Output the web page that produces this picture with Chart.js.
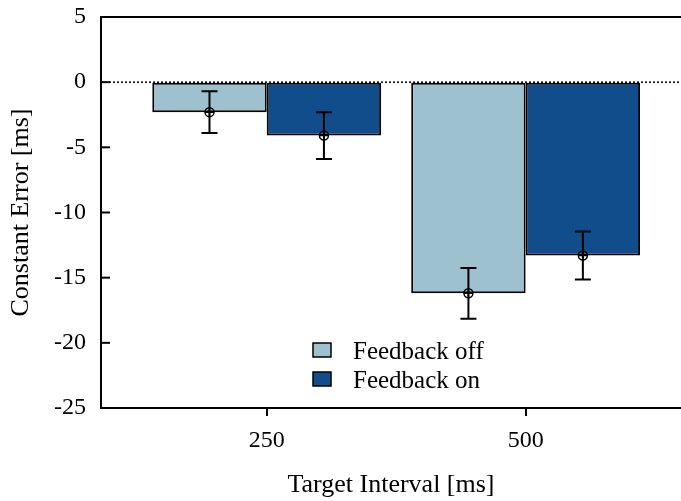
<!DOCTYPE html>
<html>
<head>
<meta charset="utf-8">
<script src="https://cdn.jsdelivr.net/npm/chart.js@4/dist/chart.umd.min.js"></script>
<style>
  html, body { margin: 0; padding: 0; background: #ffffff; overflow: hidden; }
  #wrap { width: 681px; height: 501px; }
</style>
</head>
<body>
<div id="wrap"><canvas id="c" width="681" height="501"></canvas></div>
<script>
// ---- data ----
const intervals = [250, 500];
const seriesLabels = ['Feedback off', 'Feedback on'];
const offMeans = [-2.3, -16.2];
const onMeans = [-4.1, -13.3];
const offErr = [1.6, 1.95];
const onErr = [1.8, 1.85];
const yTicks = [-25, -20, -15, -10, -5, 0, 5];

const FONT = "'Liberation Serif', 'Times New Roman', serif";
const lightColor = '#9dc1cf';
const darkColor = '#114d8a';

const toPts = (means) => intervals.map((x, i) => ({ x: x, y: means[i] }));

const errorPlugin = {
  id: 'extras',
  beforeDatasetsDraw(chart) {
    const { ctx, chartArea, scales } = chart;
    const y0 = scales.y.getPixelForValue(0);
    ctx.save();
    ctx.strokeStyle = '#000';
    ctx.lineWidth = 1.5;
    ctx.setLineDash([2, 2]);
    ctx.beginPath();
    ctx.moveTo(chartArea.left, y0);
    ctx.lineTo(chartArea.right, y0);
    ctx.stroke();
    ctx.setLineDash([]);
    ctx.lineWidth = 2;
    ctx.beginPath();
    ctx.moveTo(chartArea.left, chartArea.top);
    ctx.lineTo(chartArea.right, chartArea.top);
    ctx.stroke();
    ctx.restore();
  },
  afterDatasetsDraw(chart) {
    const { ctx, chartArea, scales } = chart;
    ctx.save();
    const errs = [offErr, onErr];
    const means = [offMeans, onMeans];
    chart.data.datasets.forEach((ds, di) => {
      const meta = chart.getDatasetMeta(di);
      meta.data.forEach((bar, i) => {
        const x = bar.x;
        const m = means[di][i];
        const e = errs[di][i];
        const yt = scales.y.getPixelForValue(m + e);
        const yb = scales.y.getPixelForValue(m - e);
        const ym = scales.y.getPixelForValue(m);
        ctx.strokeStyle = '#000';
        ctx.lineWidth = 2;
        ctx.beginPath();
        ctx.moveTo(x, yt); ctx.lineTo(x, yb);
        ctx.moveTo(x - 8, yt); ctx.lineTo(x + 8, yt);
        ctx.moveTo(x - 8, yb); ctx.lineTo(x + 8, yb);
        ctx.stroke();
        ctx.lineWidth = 1.5;
        ctx.beginPath();
        ctx.arc(x, ym, 4.5, 0, Math.PI * 2);
        ctx.stroke();
        ctx.beginPath();
        ctx.moveTo(x - 4.5, ym); ctx.lineTo(x + 4.5, ym);
        ctx.moveTo(x, ym - 4.5); ctx.lineTo(x, ym + 4.5);
        ctx.stroke();
      });
    });
    ctx.lineWidth = 2;
    ctx.strokeStyle = '#000';
    scales.y.ticks.forEach(t => {
      const py = scales.y.getPixelForValue(t.value);
      ctx.beginPath();
      ctx.moveTo(chartArea.left, py);
      ctx.lineTo(chartArea.left + 9, py);
      ctx.stroke();
    });
    const lx = chartArea.left + 212;
    const ly = chartArea.top + 326;
    ctx.font = '25px ' + FONT;
    ctx.textBaseline = 'alphabetic';
    ctx.textAlign = 'left';
    chart.data.datasets.forEach((ds, di) => {
      const by = ly + di * 29;
      ctx.fillStyle = ds.backgroundColor;
      ctx.fillRect(lx, by, 18, 14);
      ctx.lineWidth = 1.5;
      ctx.strokeStyle = '#000';
      ctx.strokeRect(lx, by, 18, 14);
      ctx.fillStyle = '#000';
      ctx.fillText(ds.label, lx + 40, by + 16);
    });
    ctx.restore();
  }
};

new Chart(document.getElementById('c'), {
  type: 'bar',
  data: {
    datasets: [
      { label: seriesLabels[0], data: toPts(offMeans), backgroundColor: lightColor, borderColor: '#000', borderWidth: 2, borderSkipped: false },
      { label: seriesLabels[1], data: toPts(onMeans), backgroundColor: darkColor, borderColor: '#000', borderWidth: 2, borderSkipped: false }
    ]
  },
  options: {
    responsive: false,
    animation: false,
    layout: { padding: { top: 17, right: 0, left: 0, bottom: 0 } },
    datasets: { bar: { barPercentage: 1.0, categoryPercentage: 0.884, grouped: true } },
    plugins: { legend: { display: false }, tooltip: { enabled: false } },
    scales: {
      x: {
        type: 'linear',
        min: 90,
        max: 650,
        offset: false,
        afterBuildTicks: (s) => { s.ticks = intervals.map(v => ({ value: v })); },
        ticks: { font: { family: FONT, size: 24 }, color: '#000', padding: 10, maxRotation: 0,
                 callback: (v) => String(v) },
        grid: { drawOnChartArea: false, tickLength: 8, color: '#000', lineWidth: 2, offset: false },
        border: { color: '#000', width: 2 },
        title: { display: true, text: 'Target Interval [ms]', font: { family: FONT, size: 26 }, color: '#000', padding: { top: 18, bottom: 0 } },
        afterFit: (s) => { s.height = 93; }
      },
      y: {
        min: -25,
        max: 5,
        afterBuildTicks: (s) => { s.ticks = yTicks.map(v => ({ value: v })); },
        ticks: { font: { family: FONT, size: 24 }, color: '#000', padding: 0,
                 callback: (v) => String(v) },
        grid: { drawOnChartArea: false, drawTicks: true, tickLength: 15, color: 'rgba(0,0,0,0)' },
        border: { color: '#000', width: 2 },
        title: { display: true, text: 'Constant Error [ms]', font: { family: FONT, size: 26 }, color: '#000', padding: { top: 6, bottom: 0 } },
        afterFit: (s) => { s.width = 101; }
      }
    }
  },
  plugins: [errorPlugin]
});
</script>
</body>
</html>
